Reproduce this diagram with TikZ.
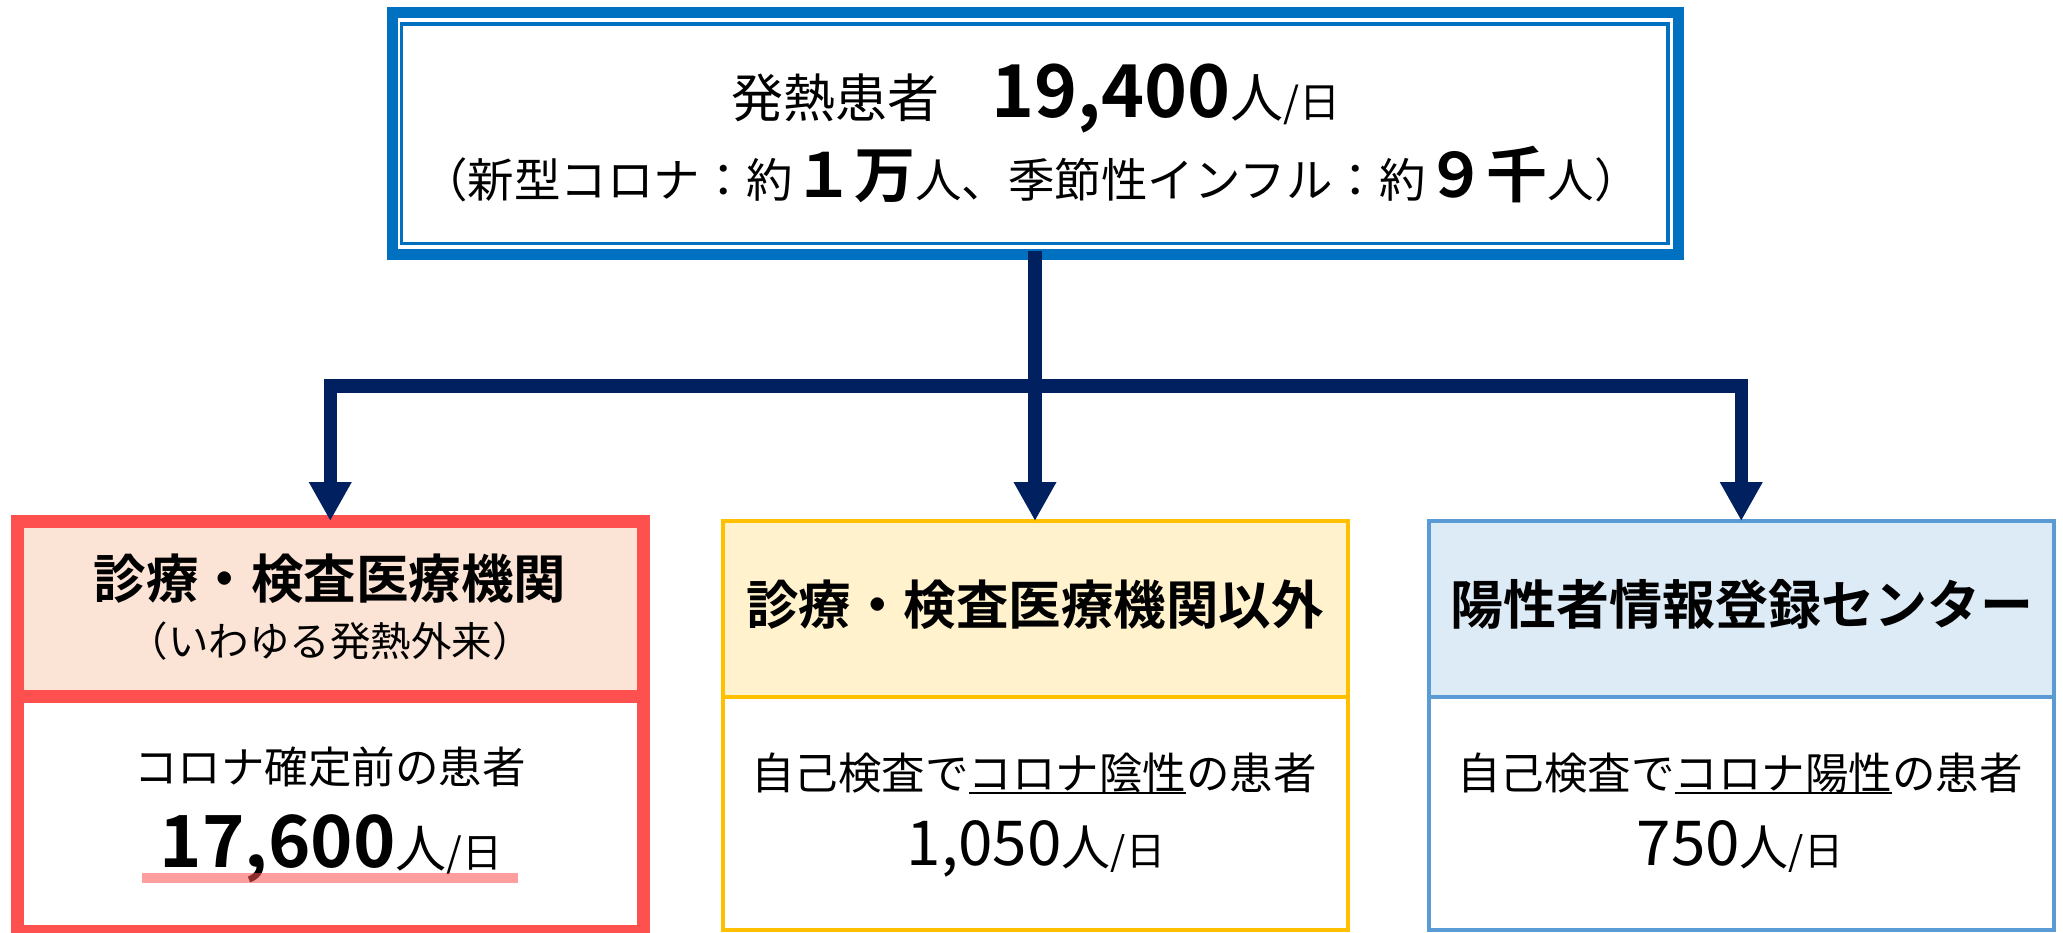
\documentclass[tikz,border=0pt]{standalone}
\usepackage{fontspec}
\setmainfont{Noto Sans CJK JP}[BoldFont={Noto Sans CJK JP Bold}]
\usetikzlibrary{arrows.meta}
\definecolor{topblue}{HTML}{0070C0}
\definecolor{navy}{HTML}{002060}
\definecolor{boxred}{HTML}{FF5050}
\definecolor{redfill}{HTML}{FBE3D6}
\definecolor{boxyel}{HTML}{FFC000}
\definecolor{yelfill}{HTML}{FFF2CC}
\definecolor{boxblue}{HTML}{5B9BD5}
\definecolor{bluefill}{HTML}{DDEBF7}
\newcommand{\fsz}[1]{\fontsize{#1}{#1}\selectfont}
\newcommand{\myul}[1]{\setbox0\hbox{#1}\rlap{\rule[-5pt]{\wd0}{2pt}}\box0}
\begin{document}
\begin{tikzpicture}[x=1pt,y=-1pt,
  box/.style={rectangle, inner sep=0pt, outer sep=0pt},
  txt/.style={inner sep=0pt, outer sep=0pt, anchor=base},
  conn/.style={draw=navy, line width=13.5pt, line join=miter},
  arr/.style={-{Triangle[width=40pt,length=39pt]}},
  redbox/.style={box, draw=boxred, line width=13pt, minimum width=625.5pt},
  yelbox/.style={box, draw=boxyel, line width=4pt, minimum width=625pt},
  bluebox/.style={box, draw=boxblue, line width=4pt, minimum width=624.5pt}]
\useasboundingbox[fill=white] (0,0) rectangle (2063,932);

% top box
\node[box, draw=topblue, line width=11pt, minimum width=1286pt, minimum height=242pt] (top) at (1035,133.5) {};
\node[box, draw=topblue, line width=3.5pt, minimum width=1266.5pt, minimum height=219.5pt] (topin) at (1034.5,133.75) {};
\node[txt] (t1) at (1036,117) {\fsz{52}発熱患者　\fsz{73}\textbf{19,400}\fsz{53}人\fsz{41}/日};
\node[txt] (t2) at (1031,197) {\fsz{46.5}（新型コロナ：約\fsz{61}\textbf{１万}\fsz{46.5}人、季節性インフル：約\fsz{61}\textbf{９千}\fsz{46.5}人）};

% left box
\node[redbox, fill=redfill, minimum height=175.5pt] (lh) at (330.25,608.75) {};
\node[redbox, fill=white, minimum height=235pt] (lb) at (330.25,814) {};
\node[txt] (lt) at (330,598) {\fsz{52.5}\textbf{診療・検査医療機関}};
\node[txt] (ls) at (330,656) {\fsz{40.5}（いわゆる発熱外来）};
\node[txt] (lb1) at (330,783) {\fsz{43.5}コロナ確定前の患者};
\node[txt] (lb2) at (331,867) {\fsz{72}\textbf{17,600}\fsz{51}人\fsz{40}/日};
\fill[boxred, opacity=0.55] (142,873) rectangle (518,883);

% middle box
\node[yelbox, fill=yelfill, minimum height=175.5pt] (mh) at (1035.5,608.75) {};
\node[yelbox, fill=white, minimum height=233.5pt] (mb) at (1035.5,813.25) {};
\node[txt] (mt) at (1035,624) {\fsz{52.5}\textbf{診療・検査医療機関以外}};
\node[txt] (mb1) at (1034,789) {\fsz{43.5}自己検査で\myul{コロナ陰性}の患者};
\node[txt] (mb2) at (1036,865) {\fsz{62}1,050\fsz{49}人\fsz{39}/日};

% right box
\node[bluebox, fill=bluefill, minimum height=175.5pt] (rh) at (1741.25,608.75) {};
\node[bluebox, fill=white, minimum height=233.5pt] (rb) at (1741.25,813.25) {};
\node[txt] (rt) at (1742,624) {\fsz{53}\textbf{陽性者情報登録センター}};
\node[txt] (rb1) at (1740,789) {\fsz{43.5}自己検査で\myul{コロナ陽性}の患者};
\node[txt] (rb2) at (1740,865) {\fsz{62}750\fsz{49}人\fsz{39}/日};

% connectors
\coordinate (split) at (1035,386);
\draw[conn] ([yshift=3.5pt]top.south) -- (split);
\draw[conn,arr] (split) -| (lh.north);
\draw[conn,arr] (split) -- (split |- mh.north);
\draw[conn,arr] (split) -| (rh.north);
\end{tikzpicture}
\end{document}
